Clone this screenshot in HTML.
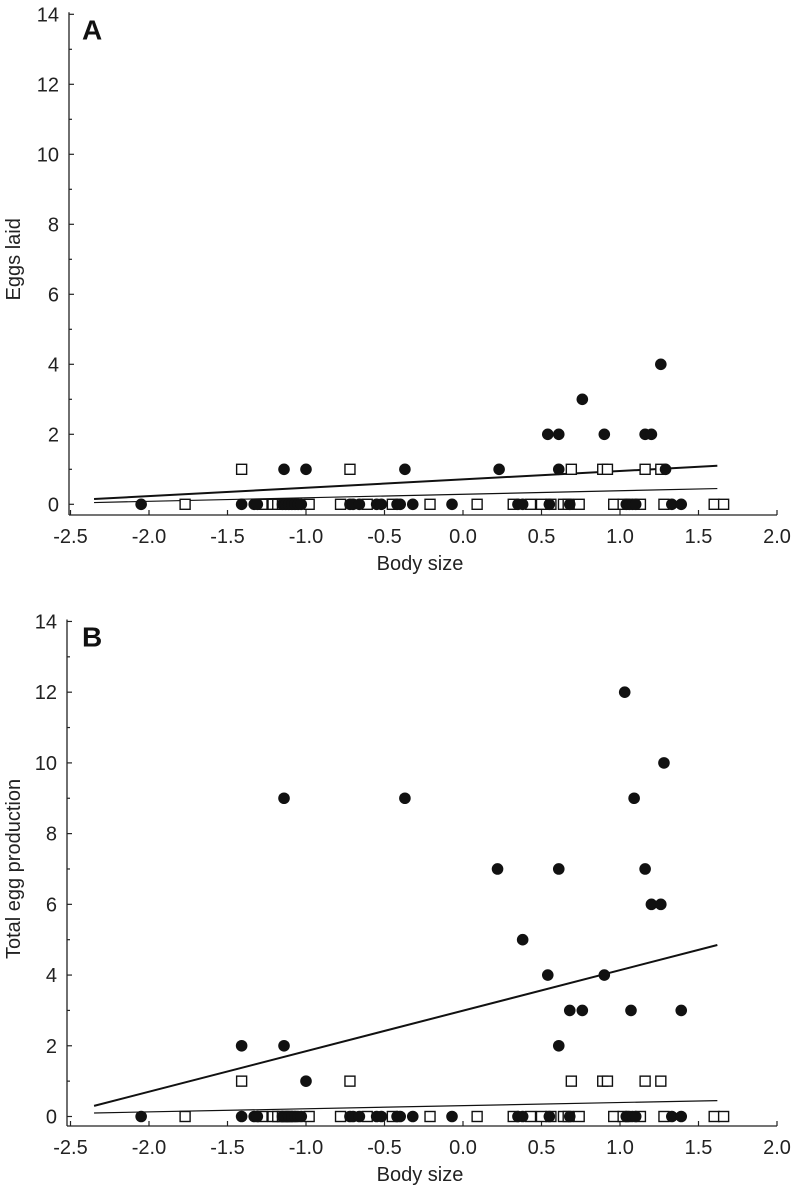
<!DOCTYPE html>
<html><head><meta charset="utf-8"><style>
body{margin:0;background:#fff}
svg{display:block;font-family:"Liberation Sans",sans-serif}
</style></head><body>
<svg id="c" width="798" height="1200" xmlns="http://www.w3.org/2000/svg"></svg>
<script>
const xTicks=[-2.5,-2.0,-1.5,-1.0,-0.5,0.0,0.5,1.0,1.5,2.0];
const yTicks=[0,2,4,6,8,10,12,14];
const zeroCirclesX=[-2.05,-1.41,-1.33,-1.31,-1.15,-1.13,-1.11,-1.09,-1.07,-1.05,-1.03,-0.72,-0.70,-0.66,-0.55,-0.52,-0.42,-0.40,-0.32,-0.07,0.35,0.38,0.55,0.68,1.04,1.06,1.08,1.10,1.33,1.39];
const zeroSquaresX=[-1.77,-1.28,-1.21,-1.18,-1.15,-1.12,-1.09,-0.98,-0.78,-0.61,-0.45,-0.21,0.09,0.32,0.43,0.50,0.56,0.64,0.67,0.74,0.96,1.02,1.13,1.28,1.60,1.66];
const aCirclesX=[-1.14,-1.0,-0.37,0.23,0.61,1.29,0.54,0.61,0.90,1.16,1.20,0.76,1.26];
const aCirclesY=[1,1,1,1,1,1,2,2,2,2,2,3,4];
const onesSquaresX=[-1.41,-0.72,0.69,0.89,0.92,1.16,1.26];
const bCirclesX=[-1.41,-1.14,-1.14,-0.37,-1.0,0.22,0.38,0.54,0.61,0.61,0.68,0.76,0.90,1.03,1.07,1.09,1.16,1.20,1.26,1.28,1.39];
const bCirclesY=[2,2,9,9,1,7,5,4,2,7,3,3,4,12,3,9,7,6,6,10,3];
const aThick=[[-2.35,0.15],[1.62,1.1]];
const aThin=[[-2.35,0.05],[1.62,0.45]];
const bThick=[[-2.35,0.3],[1.62,4.85]];
const bThin=[[-2.35,0.1],[1.62,0.45]];

const svg=document.getElementById('c');
const NS='http://www.w3.org/2000/svg';
function mk(tag,attrs,parent,text){const e=document.createElementNS(NS,tag);for(const k in attrs)e.setAttribute(k,attrs[k]);if(text!==undefined)e.textContent=text;parent.appendChild(e);return e;}

function panel(p){
  const g=mk('g',{},svg);
  
  
  const X=v=>463+157*v;
  const Y=v=>p.y0-p.sy*v;
  mk('line',{x1:p.ax,y1:Y(14)-2,x2:p.ax,y2:p.axisY,stroke:'#222','stroke-width':1.3},g);
  mk('line',{x1:p.ax,y1:p.axisY,x2:X(2.0),y2:p.axisY,stroke:'#222','stroke-width':1.3},g);
  xTicks.forEach(t=>{
    mk('line',{x1:X(t),y1:p.axisY,x2:X(t),y2:p.axisY-5,stroke:'#222','stroke-width':1.2},g);
    const lb=mk('text',{x:X(t),y:p.axisY+28,'font-size':20,'text-anchor':'middle',fill:'#222'},g,t.toFixed(1));
    
    
  });
  for(let v=0;v<=14;v++){
    mk('line',{x1:p.ax,y1:Y(v),x2:p.ax+(v%2?3:5),y2:Y(v),stroke:'#222','stroke-width':1.2},g);
  }
  yTicks.forEach(t=>{
    const lb=mk('text',{x:p.ax-10,y:Y(t)+7,'font-size':20,'text-anchor':'end',fill:'#222'},g,String(t));
    
    
  });
  const xt=mk('text',{x:420,y:p.axisY+55,'font-size':20,'text-anchor':'middle',fill:'#222'},g,'Body size');
  
  
  const yt=mk('text',{x:0,y:0,'font-size':20,'text-anchor':'middle',fill:'#222',transform:`translate(20,${(Y(0)+Y(14))/2}) rotate(-90)`},g,p.ylabel);
  
  
  const pl=mk('text',{x:82,y:Y(14)+25,'font-size':28,'font-weight':'bold',fill:'#111'},g,p.id);
  
  
  const ln=(pts,w,name)=>{const l=mk('line',{x1:X(pts[0][0]),y1:Y(pts[0][1]),x2:X(pts[1][0]),y2:Y(pts[1][1]),stroke:'#111','stroke-width':w},g);
    
    };
  ln(p.thick,2,'regression-line-circles');
  ln(p.thin,1.2,'regression-line-squares');
  const sq=(x,y)=>{const r=mk('rect',{x:X(x)-5,y:Y(y)-5,width:10,height:10,fill:'#fff',stroke:'#111','stroke-width':1.4},g);
    
    };
  const ci=(x,y)=>{const c=mk('circle',{cx:X(x),cy:Y(y),r:5.8,fill:'#111'},g);
    
    };
  zeroSquaresX.forEach(x=>sq(x,0));
  onesSquaresX.forEach(x=>sq(x,1));
  zeroCirclesX.forEach(x=>ci(x,0));
  p.cx.forEach((x,i)=>ci(x,p.cy[i]));
}
panel({id:'A',ax:69,y0:504.3,sy:35.0,axisY:515,ylabel:'Eggs laid',thick:aThick,thin:aThin,cx:aCirclesX,cy:aCirclesY});
panel({id:'B',ax:67,y0:1116.5,sy:35.36,axisY:1126,ylabel:'Total egg production',thick:bThick,thin:bThin,cx:bCirclesX,cy:bCirclesY});
</script>
</body></html>
